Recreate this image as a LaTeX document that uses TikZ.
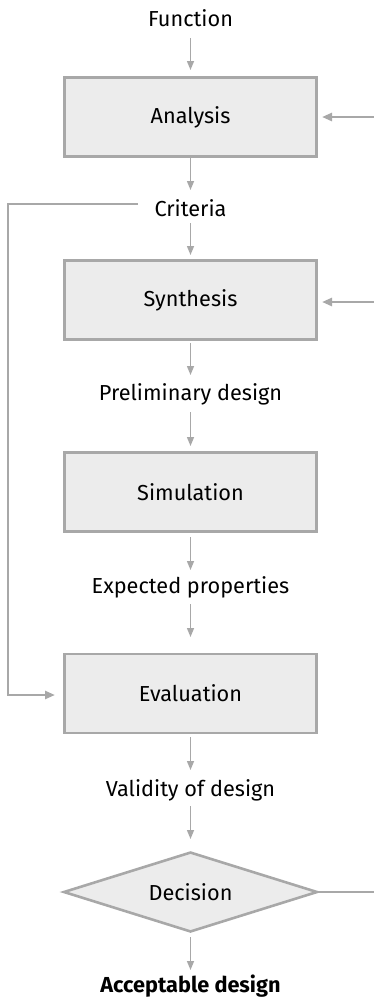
\documentclass[tikz,border=0pt]{standalone}
\usepackage{fontspec}
\setmainfont{Fira Sans}
\usetikzlibrary{arrows.meta,shapes.geometric}
\definecolor{linegray}{HTML}{A8A8A8}
\definecolor{boxfill}{HTML}{ECECEC}
\tikzset{
  txt/.style={font=\fontsize{21.7}{24}\selectfont},
  stepbox/.style={txt, draw=linegray, line width=2.2pt, fill=boxfill, minimum width=252pt, minimum height=79pt, inner sep=0pt},
  decbox/.style={txt, draw=linegray, line width=2.6pt, fill=boxfill, diamond, aspect=3.175, minimum width=254pt, minimum height=80pt, inner sep=0pt},
  lab/.style={txt, inner sep=0pt},
  flow/.style={draw=linegray, line width=1.4pt, -{Triangle[length=9pt,width=7pt]}},
  side/.style={draw=linegray, line width=2.6pt, -{Triangle[length=10pt,width=8pt]}},
  fb/.style={draw=linegray, line width=2.4pt},
}
\begin{document}
\begin{tikzpicture}[x=1pt,y=-1pt]
\useasboundingbox (0,0) rectangle (374,1007);
\node[lab] (fun) at (190.5,18) {Function};
\node[stepbox] (ana) at (190.5,117) {Analysis};
\node[lab] (cri) at (190.5,208) {Criteria};
\node[stepbox] (syn) at (190.5,300) {Synthesis};
\node[lab] (pre) at (190.5,394) {Preliminary design};
\node[stepbox] (sim) at (190.5,492) {Simulation};
\node[lab] (exp) at (190.5,587) {Expected properties};
\node[stepbox] (eva) at (190.5,693.5) {Evaluation};
\node[lab] (val) at (190.5,790) {Validity of design};
\node[decbox] (dec) at (190.5,892) {Decision};
\node[lab, font=\fontsize{21.7}{24}\selectfont\bfseries] (acc) at (190.5,986) {Acceptable design};

\coordinate (inA) at (374,117);
\coordinate (inS) at (374,302);
\coordinate (outD) at (374,892);
\coordinate (fbA) at (138,204);
\coordinate (fbB) at (8,204);
\coordinate (fbC) at (8,695);

\draw[flow] (190.5,38) -- (190.5,70);
\draw[flow] (190.5,158) -- (190.5,190);
\draw[flow] (190.5,223) -- (190.5,255);
\draw[flow] (190.5,343) -- (190.5,375);
\draw[flow] (190.5,412) -- (190.5,446);
\draw[flow] (190.5,537) -- (190.5,570);
\draw[flow] (190.5,604) -- (190.5,637);
\draw[flow] (190.5,737) -- (190.5,770);
\draw[flow] (190.5,806) -- (190.5,839);
\draw[flow] (190.5,937) -- (190.5,970);

\draw[side] (inA) -- (322,117);
\draw[side] (inS) -- (322,302);
\draw[fb] (dec.east) -- (outD);
\draw[fb, -{Triangle[length=10pt,width=8pt]}] (fbA) -- (fbB) -- (fbC) -- (55,695);
\end{tikzpicture}
\end{document}
